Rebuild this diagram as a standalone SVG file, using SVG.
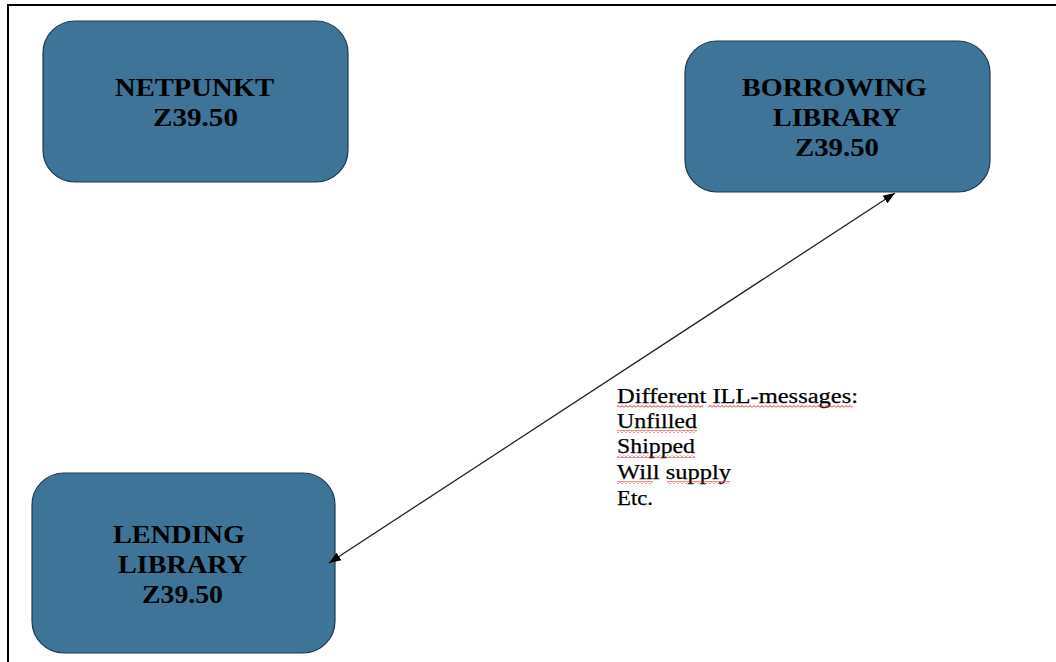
<svg xmlns="http://www.w3.org/2000/svg" width="1056" height="662" viewBox="0 0 1056 662">
  <defs>
    <style>
      .box { fill: #3d7497; stroke: #1e3a4d; stroke-width: 1.2; }
      .lbl { font-family: "Liberation Serif", "Times New Roman", serif; font-weight: bold; font-size: 26px; fill: #000; }
      .note { font-family: "Liberation Serif", "Times New Roman", serif; font-size: 20px; fill: #000; stroke: #000; stroke-width: 0.25; }
      .frame { stroke: #000; stroke-width: 2; fill: none; }
      .conn { stroke: #222; stroke-width: 1.3; fill: none; }
    </style>
    <marker id="arrow" viewBox="0 0 12 10" refX="12" refY="5" markerWidth="12" markerHeight="10" markerUnits="userSpaceOnUse" orient="auto-start-reverse">
      <path d="M0,0.5 L12,5 L0,9.5 Z" fill="#000"/>
    </marker>
    <pattern id="squiggle" width="4" height="3" patternUnits="userSpaceOnUse">
      <path d="M0,2.5 L2,0.5 L4,2.5" stroke="#e02020" stroke-width="1" fill="none"/>
    </pattern>
  </defs>

  <rect width="1056" height="662" fill="#fff"/>
  <path class="frame" d="M8,662 L8,5 L1056,5"/>

  <g id="netpunkt">
    <rect class="box" x="43" y="21" width="305" height="161" rx="32" ry="32"/>
    <text class="lbl" x="115" y="96" textLength="159" lengthAdjust="spacingAndGlyphs">NETPUNKT</text>
    <text class="lbl" x="153" y="126" textLength="85" lengthAdjust="spacingAndGlyphs">Z39.50</text>
  </g>

  <g id="borrowing-library">
    <rect class="box" x="685" y="41" width="305" height="151" rx="32" ry="32"/>
    <text class="lbl" x="742" y="96" textLength="185" lengthAdjust="spacingAndGlyphs">BORROWING</text>
    <text class="lbl" x="773" y="126" textLength="128" lengthAdjust="spacingAndGlyphs">LIBRARY</text>
    <text class="lbl" x="795" y="156" textLength="84" lengthAdjust="spacingAndGlyphs">Z39.50</text>
  </g>

  <g id="lending-library">
    <rect class="box" x="32" y="473" width="303" height="180" rx="32" ry="32"/>
    <text class="lbl" x="113" y="543" textLength="132" lengthAdjust="spacingAndGlyphs">LENDING</text>
    <text class="lbl" x="118" y="573" textLength="129" lengthAdjust="spacingAndGlyphs">LIBRARY</text>
    <text class="lbl" x="142" y="603" textLength="81" lengthAdjust="spacingAndGlyphs">Z39.50</text>
  </g>

  <g id="connectors">
    <line class="conn" x1="329" y1="563" x2="895" y2="193" marker-start="url(#arrow)" marker-end="url(#arrow)"/>
  </g>

  <g id="messages-note">
    <text class="note" x="617" y="403" textLength="241" lengthAdjust="spacingAndGlyphs">Different ILL-messages:</text>
    <text class="note" x="617" y="428" textLength="80" lengthAdjust="spacingAndGlyphs">Unfilled</text>
    <text class="note" x="617" y="453" textLength="78" lengthAdjust="spacingAndGlyphs">Shipped</text>
    <text class="note" x="617" y="479" textLength="114" lengthAdjust="spacingAndGlyphs">Will supply</text>
    <text class="note" x="617" y="505" textLength="36" lengthAdjust="spacingAndGlyphs">Etc.</text>
    <rect x="617" y="405" width="86" height="3" fill="url(#squiggle)"/>
    <rect x="708" y="405" width="145" height="3" fill="url(#squiggle)"/>
    <rect x="617" y="430" width="80" height="3" fill="url(#squiggle)"/>
    <rect x="617" y="455" width="78" height="3" fill="url(#squiggle)"/>
    <rect x="617" y="481" width="36" height="3" fill="url(#squiggle)"/>
    <rect x="667" y="481" width="63" height="3" fill="url(#squiggle)"/>
  </g>
</svg>
